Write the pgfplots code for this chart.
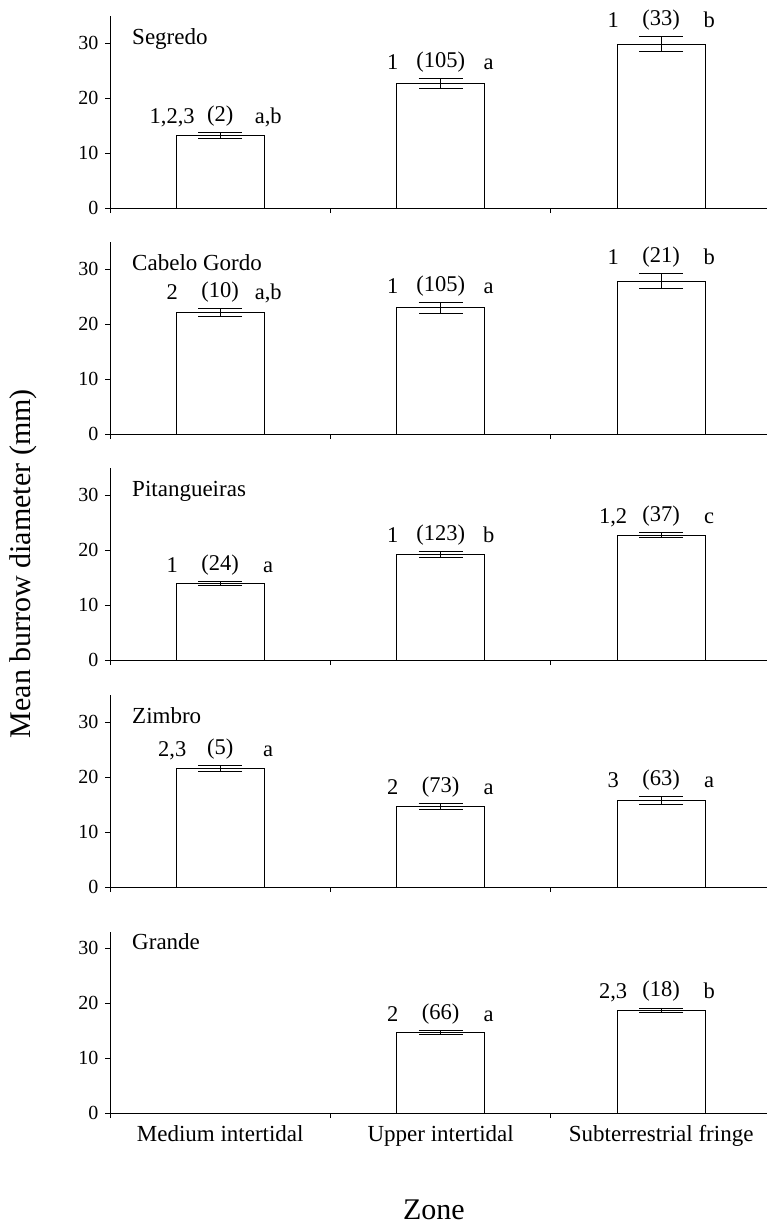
\documentclass[border=0pt]{standalone}
\usepackage{fontspec}
\setmainfont{Liberation Serif}
\usepackage{pgfplots}
\pgfplotsset{compat=1.18}

\newcommand{\annfont}{\fontsize{22.5}{26}\selectfont}
\newcommand{\ann}[5]{%
  \node[anchor=base, inner sep=0pt, xshift=-48pt, yshift=9pt, font=\annfont] at (axis cs:#1,#2) {#3};
  \node[anchor=base, inner sep=0pt, yshift=11pt, font=\annfont] at (axis cs:#1,#2) {#4};
  \node[anchor=base, inner sep=0pt, xshift=48pt, yshift=9pt, font=\annfont] at (axis cs:#1,#2) {#5};
}
\newcommand{\ptitle}[1]{%
  \node[anchor=base west, inner sep=0pt, font=\fontsize{23}{26}\selectfont] at (axis cs:0.1,29.8) {#1};
}

\pgfplotsset{
  panel/.style={
    scale only axis, width=657pt, height=192.5pt,
    xmin=0, xmax=2.98, ymin=0, ymax=35,
    anchor=south west,
    axis x line*=bottom, axis y line*=left,
    axis line style={line width=0.9pt, black, -},
    ytick={0,10,20,30},
    xtick={0,1,2}, xticklabels={},
    tick align=outside, major tick length=5pt,
    tick style={line width=0.9pt, black},
    tick label style={font=\fontsize{20}{22}\selectfont},
    yticklabel style={xshift=-3pt},
    /pgf/number format/assume math mode=true,
    clip=false,
  },
  bars/.style={
    ybar, bar width=0.4, fill=white, draw=black, line width=0.9pt,
    error bars/.cd, y dir=both, y explicit,
    error mark=|,
    error bar style={line width=0.9pt, black},
    error mark options={mark size=22pt, line width=0.9pt, black},
  },
}

\begin{document}
\begin{tikzpicture}
\path[use as bounding box] (0,0) rectangle (767pt,-1226pt);

% Segredo
\begin{axis}[panel, at={(110pt,-208pt)}]
\addplot[bars] coordinates {(0.5,13.2) +- (0,0.6) (1.5,22.6) +- (0,0.95) (2.5,29.8) +- (0,1.35)};
\ptitle{Segredo}
\ann{0.5}{13.8}{1,2,3}{(2)}{a,b}
\ann{1.5}{23.55}{1}{(105)}{a}
\ann{2.5}{31.15}{1}{(33)}{b}
\end{axis}

% Cabelo Gordo
\begin{axis}[panel, at={(110pt,-434pt)}]
\addplot[bars] coordinates {(0.5,22.1) +- (0,0.65) (1.5,23.0) +- (0,1.0) (2.5,27.8) +- (0,1.4)};
\ptitle{Cabelo Gordo}
\ann{0.5}{22.75}{2}{(10)}{a,b}
\ann{1.5}{24.0}{1}{(105)}{a}
\ann{2.5}{29.2}{1}{(21)}{b}
\end{axis}

% Pitangueiras
\begin{axis}[panel, at={(110pt,-660pt)},
  ylabel={Mean burrow diameter (mm)},
  ylabel style={at={(axis description cs:0,0.5)}, anchor=center, yshift=87pt, font=\fontsize{30}{34}\selectfont}]
\addplot[bars] coordinates {(0.5,13.9) +- (0,0.3) (1.5,19.2) +- (0,0.5) (2.5,22.7) +- (0,0.5)};
\ptitle{Pitangueiras}
\ann{0.5}{14.2}{1}{(24)}{a}
\ann{1.5}{19.7}{1}{(123)}{b}
\ann{2.5}{23.2}{1,2}{(37)}{c}
\end{axis}

% Zimbro
\begin{axis}[panel, at={(110pt,-887pt)}]
\addplot[bars] coordinates {(0.5,21.6) +- (0,0.55) (1.5,14.7) +- (0,0.55) (2.5,15.8) +- (0,0.7)};
\ptitle{Zimbro}
\ann{0.5}{22.15}{2,3}{(5)}{a}
\ann{1.5}{15.25}{2}{(73)}{a}
\ann{2.5}{16.5}{3}{(63)}{a}
\end{axis}

% Grande
\begin{axis}[panel, at={(110pt,-1113pt)}, ymax=33, height=181.5pt,
  extra x ticks={0.5,1.5,2.5},
  extra x tick labels={Medium intertidal, Upper intertidal, Subterrestrial fringe},
  extra x tick style={major tick length=0pt, tick label style={font=\fontsize{23}{26}\selectfont, yshift=-9pt}},
  xlabel={Zone},
  xlabel style={at={(axis description cs:0.493,0)}, anchor=base, yshift=-106pt, font=\fontsize{30}{34}\selectfont}]
\addplot[bars] coordinates {(1.5,14.7) +- (0,0.35) (2.5,18.7) +- (0,0.4)};
\ptitle{Grande}
\ann{1.5}{15.05}{2}{(66)}{a}
\ann{2.5}{19.1}{2,3}{(18)}{b}
\end{axis}
\end{tikzpicture}
\end{document}
